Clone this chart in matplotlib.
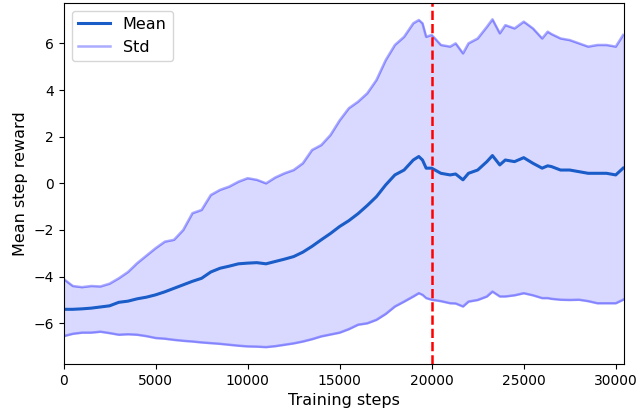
import numpy as np
import matplotlib
matplotlib.use("Agg")
import matplotlib.pyplot as plt

# values
steps = [0, 500, 1000, 1500, 2000, 2500, 3000, 3500, 4000, 4500,
         5000, 5500, 6000, 6500, 7000, 7500, 8000, 8500, 9000, 9500,
         10000, 10500, 11000, 11500, 12000, 12500, 13000, 13500, 14000, 14500,
         15000, 15500, 16000, 16500, 17000, 17500, 18000, 18500, 19000, 19300,
         19500, 19700, 20000, 20500, 21000, 21300, 21700, 22000, 22500, 23000,
         23300, 23700, 24000, 24500, 25000, 25500, 26000, 26300, 26500, 27000,
         27500, 28000, 28500, 29000, 29500, 30000, 30400]
mean_reward = [-5.40, -5.40, -5.38, -5.35, -5.30, -5.25, -5.10, -5.05, -4.95, -4.88,
               -4.78, -4.65, -4.50, -4.35, -4.20, -4.07, -3.80, -3.64, -3.55, -3.45,
               -3.42, -3.40, -3.45, -3.35, -3.25, -3.14, -2.95, -2.70, -2.42, -2.15,
               -1.85, -1.60, -1.30, -0.95, -0.57, -0.07, 0.36, 0.57, 1.00, 1.15,
               1.00, 0.65, 0.65, 0.43, 0.36, 0.40, 0.15, 0.43, 0.57, 0.93,
               1.19, 0.79, 1.00, 0.93, 1.10, 0.86, 0.65, 0.75, 0.72, 0.57,
               0.57, 0.50, 0.43, 0.43, 0.43, 0.36, 0.65]
upper_reward = [-4.10, -4.40, -4.45, -4.40, -4.42, -4.30, -4.07, -3.80, -3.42, -3.10,
                -2.78, -2.50, -2.42, -2.00, -1.28, -1.14, -0.50, -0.28, -0.14, 0.07,
                0.22, 0.15, 0.00, 0.25, 0.43, 0.57, 0.86, 1.43, 1.64, 2.07,
                2.70, 3.22, 3.50, 3.86, 4.43, 5.28, 5.93, 6.28, 6.86, 7.00,
                6.86, 6.28, 6.36, 5.93, 5.86, 6.00, 5.57, 6.00, 6.21, 6.71,
                7.03, 6.43, 6.78, 6.64, 6.93, 6.64, 6.21, 6.50, 6.40, 6.21,
                6.14, 6.00, 5.86, 5.93, 5.93, 5.86, 6.36]
lower_reward = [-6.55, -6.45, -6.40, -6.40, -6.36, -6.42, -6.49, -6.47, -6.49, -6.55,
                -6.63, -6.66, -6.71, -6.75, -6.78, -6.82, -6.85, -6.88, -6.92, -6.96,
                -6.99, -7.00, -7.02, -6.98, -6.92, -6.86, -6.78, -6.68, -6.56, -6.48,
                -6.40, -6.25, -6.06, -6.00, -5.85, -5.60, -5.28, -5.07, -4.85, -4.71,
                -4.78, -4.92, -4.99, -5.05, -5.14, -5.15, -5.28, -5.07, -5.00, -4.85,
                -4.64, -4.85, -4.85, -4.80, -4.71, -4.80, -4.92, -4.92, -4.95, -4.99,
                -5.00, -4.99, -5.05, -5.14, -5.14, -5.14, -4.99]
switch_step = 20000

fig = plt.figure(figsize=(6.42, 4.2), dpi=100)
ax = fig.add_axes([0.099, 0.133, 0.873, 0.861])

ax.plot(steps, mean_reward, color='#1a5cc8', linewidth=2.2, label='Mean')
ax.fill_between(steps, lower_reward, upper_reward, color='blue', alpha=0.15)
ax.plot(steps, upper_reward, color='blue', alpha=0.33, linewidth=1.8, label='Std')
ax.plot(steps, lower_reward, color='blue', alpha=0.33, linewidth=1.8)
ax.axvline(switch_step, color='red', linestyle='--', linewidth=1.8)

ax.set_xlim(0, 30450)
ax.set_ylim(-7.75, 7.75)
ax.set_xticks([0, 5000, 10000, 15000, 20000, 25000, 30000])
ax.set_yticks([-6, -4, -2, 0, 2, 4, 6])
ax.tick_params(labelsize=10)
ax.set_xlabel('Training steps', fontsize=11.5)
ax.set_ylabel('Mean step reward', fontsize=11.5)
ax.legend(loc='upper left', fontsize=11.5)

fig.savefig('out.png', dpi=100)
